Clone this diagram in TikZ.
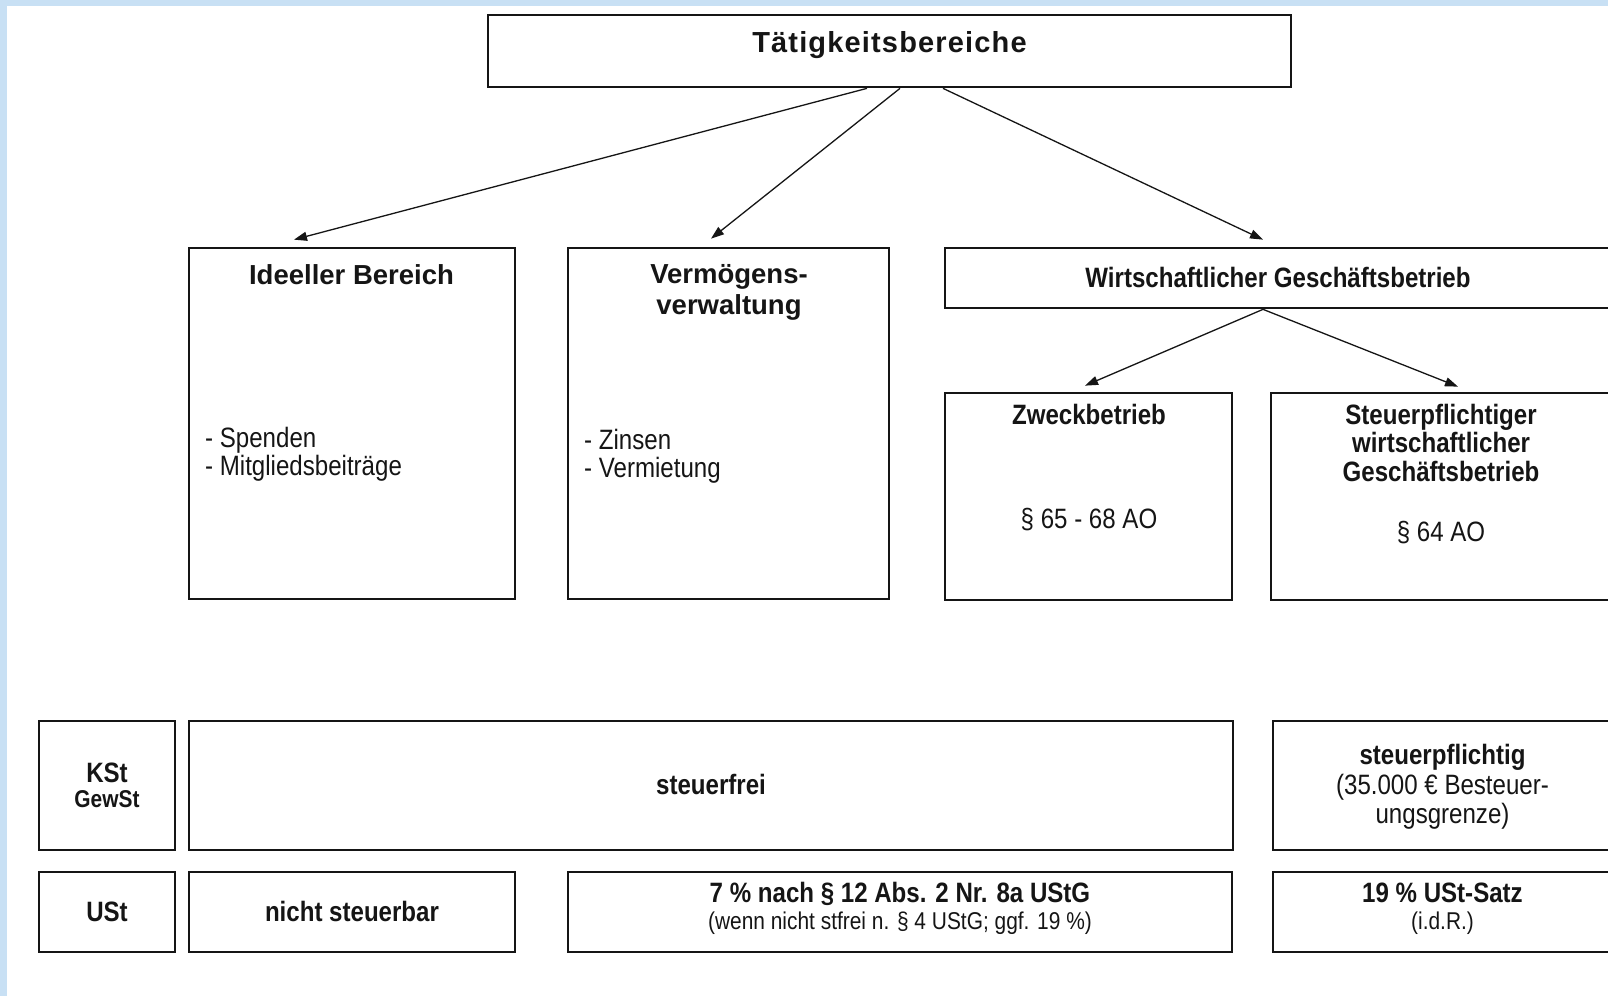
\documentclass[tikz,border=0pt]{standalone}
\usepackage{fontspec}
\setmainfont{Liberation Sans}
\newfontfamily\narrowfont[FakeStretch=0.86]{Liberation Sans}
\newfontfamily\headfont[LetterSpace=4]{Liberation Sans}
\usetikzlibrary{arrows.meta}
\definecolor{frameblue}{HTML}{C8E0F4}
\definecolor{ink}{HTML}{151515}

\begin{document}
\begin{tikzpicture}[x=1pt,y=-1pt,
  boxed/.style={draw=ink, line width=2.7pt, inner sep=0pt, fill=white},
  txtbase/.style={inner sep=0pt, anchor=base, text=ink},
  txtnb/.style={txtbase, font=\narrowfont\bfseries\fontsize{28}{30}\selectfont},
  txtnr/.style={txtbase, font=\narrowfont\fontsize{28}{30}\selectfont},
  txtsm/.style={txtbase, font=\narrowfont\fontsize{24.3}{26}\selectfont},
  txtsmb/.style={txtbase, font=\narrowfont\bfseries\fontsize{24.3}{26}\selectfont},
  txthead/.style={txtbase, font=\headfont\bfseries\fontsize{29}{31}\selectfont},
  txtwide/.style={txtbase, font=\bfseries\fontsize{27.5}{30}\selectfont},
  arr/.style={draw=ink, line width=1.3pt, -{Triangle[length=13pt,width=9pt]}}]

\useasboundingbox (0,0) rectangle (1608,996);
\clip (0,0) rectangle (1608,996);
\fill[white] (0,0) rectangle (1608,996);
\fill[frameblue] (0,0) rectangle (1608,6);
\fill[frameblue] (0,0) rectangle (7,996);

% upper tier
\node[boxed, minimum width=803pt, minimum height=72pt] (top) at (889.5,51) {};
\node[txthead] (topT) at (889.5,52) {Tätigkeitsbereiche};

\node[boxed, minimum width=326pt, minimum height=351pt] (ideel) at (352,423.5) {};
\node[txtwide] (ideelT) at (351.5,284) {Ideeller Bereich};
\node[txtnr, anchor=base west] (ideelA) at (205,447) {- Spenden};
\node[txtnr, anchor=base west] (ideelB) at (205,475) {- Mitgliedsbeiträge};

\node[boxed, minimum width=321pt, minimum height=351pt] (verm) at (728.5,423.5) {};
\node[txtwide] (vermT1) at (729,283) {Vermögens-};
\node[txtwide] (vermT2) at (729,314) {verwaltung};
\node[txtnr, anchor=base west] (vermA) at (584,449) {- Zinsen};
\node[txtnr, anchor=base west] (vermB) at (584,477) {- Vermietung};

\node[boxed, minimum width=669pt, minimum height=60pt] (wgb) at (1279.5,278) {};
\node[txtnb] (wgbT) at (1278,287) {Wirtschaftlicher Geschäftsbetrieb};

\node[boxed, minimum width=287pt, minimum height=207pt] (zweck) at (1088.5,496.5) {};
\node[txtnb] (zweckT) at (1089,424) {Zweckbetrieb};
\node[txtnr] (zweckP) at (1089,528) {§ 65 - 68 AO};

\node[boxed, minimum width=343pt, minimum height=207pt] (stpfl) at (1442.5,496.5) {};
\node[txtnb] (stpflT1) at (1441,424) {Steuerpflichtiger};
\node[txtnb] (stpflT2) at (1441,452) {wirtschaftlicher};
\node[txtnb] (stpflT3) at (1441,481) {Geschäftsbetrieb};
\node[txtnr] (stpflP) at (1441,541.5) {§ 64 AO};

% connectors
\draw[arr] ([xshift=-22.5pt]top.south) -- ([xshift=-58pt,yshift=7pt]ideel.north);
\draw[arr] ([xshift=10.5pt]top.south) -- ([xshift=-17.5pt,yshift=8pt]verm.north);
\draw[arr] ([xshift=53.5pt]top.south) -- ([xshift=-16.5pt,yshift=7pt]wgb.north);
\draw[arr] ([xshift=-16.5pt]wgb.south) -- ([xshift=-3.5pt,yshift=6pt]zweck.north);
\draw[arr] ([xshift=-16.5pt]wgb.south) -- ([xshift=15.5pt,yshift=5pt]stpfl.north);

% tax rows
\node[boxed, minimum width=136pt, minimum height=129pt] (kst) at (107,785.5) {};
\node[txtnb] (kstT) at (107,782.5) {KSt};
\node[txtsmb] (gewT) at (107,807) {GewSt};

\node[boxed, minimum width=1044pt, minimum height=129pt] (frei) at (711,785.5) {};
\node[txtnb] (freiT) at (711,794) {steuerfrei};

\node[boxed, minimum width=341pt, minimum height=129pt] (pfl) at (1443.5,785.5) {};
\node[txtnb] (pflT1) at (1442.5,764) {steuerpflichtig};
\node[txtnr] (pflT2) at (1442.5,794) {(35.000 € Besteuer-};
\node[txtnr] (pflT3) at (1442.5,823.5) {ungsgrenze)};

\node[boxed, minimum width=136pt, minimum height=80pt] (ust) at (107,912) {};
\node[txtnb] (ustT) at (107,921) {USt};

\node[boxed, minimum width=326pt, minimum height=80pt] (nsb) at (352,912) {};
\node[txtnb] (nsbT) at (352,921) {nicht steuerbar};

\node[boxed, minimum width=664pt, minimum height=80pt] (erm) at (900,912) {};
\node[txtnb] (ermT1) at (900,902.5) {7 \% nach § 12 Abs. 2 Nr. 8a UStG};
\node[txtsm] (ermT2) at (900,929) {(wenn nicht stfrei n. § 4 UStG; ggf. 19 \%)};

\node[boxed, minimum width=341pt, minimum height=80pt] (regel) at (1443.5,912) {};
\node[txtnb] (regelT1) at (1442.5,902.5) {19 \% USt-Satz};
\node[txtsm] (regelT2) at (1442.5,929) {(i.d.R.)};
\end{tikzpicture}
\end{document}
